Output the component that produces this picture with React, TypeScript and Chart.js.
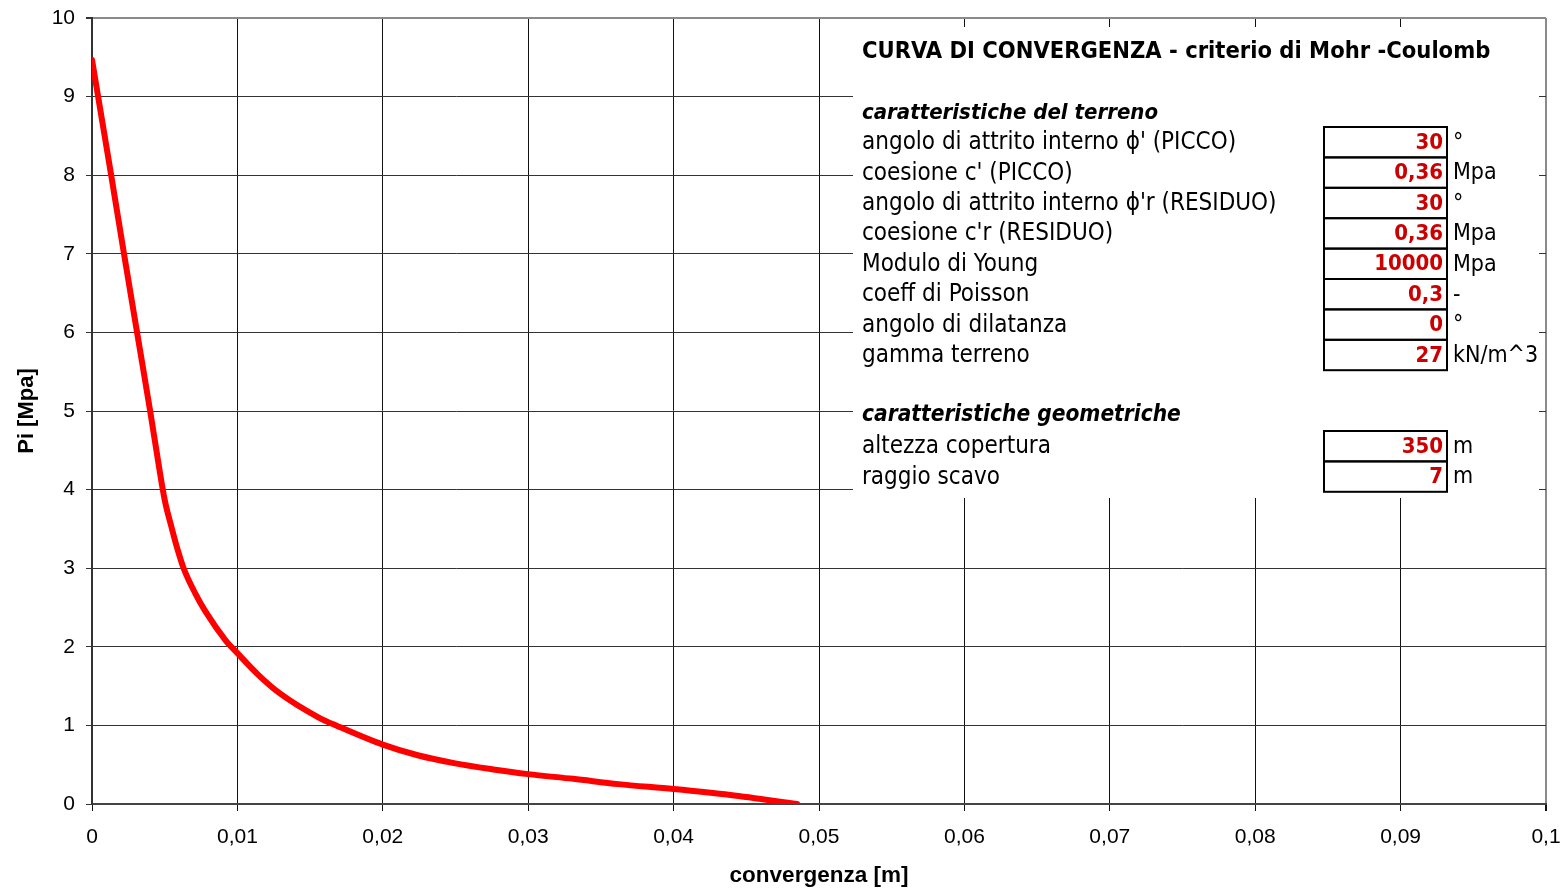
import React, { useEffect, useRef } from 'react';
import { Chart, registerables } from 'chart.js';

Chart.register(...registerables);

// ---- data ----
const convergence = [
  0, 0.00042, 0.00132, 0.0022, 0.0031, 0.004, 0.0046, 0.005, 0.0055, 0.0059,
  0.0063, 0.0071, 0.0078, 0.0092, 0.01, 0.0114, 0.0129, 0.0156, 0.0169, 0.02,
  0.0224, 0.0249, 0.0276, 0.03, 0.0331, 0.0362, 0.04, 0.0439, 0.0485,
];
const pressure = [
  9.47, 9.0, 8.0, 7.0, 6.0, 5.0, 4.3, 3.87, 3.5, 3.23,
  3.0, 2.68, 2.45, 2.08, 1.92, 1.65, 1.41, 1.1, 0.99, 0.755,
  0.62, 0.52, 0.44, 0.38, 0.32, 0.253, 0.19, 0.114, 0.0,
];
const xTickLabels = ['0', '0,01', '0,02', '0,03', '0,04', '0,05', '0,06', '0,07', '0,08', '0,09', '0,1'];
const yTickLabels = ['0', '1', '2', '3', '4', '5', '6', '7', '8', '9', '10'];
const xTitle = 'convergenza [m]';
const yTitle = 'Pi [Mpa]';

const panelTitle = 'CURVA DI CONVERGENZA - criterio di Mohr -Coulomb';
const sectionTerreno = 'caratteristiche del terreno';
const terrenoLabels = [
  "angolo di attrito interno \u03d5' (PICCO)",
  "coesione c' (PICCO)",
  "angolo di attrito interno \u03d5'r (RESIDUO)",
  "coesione c'r (RESIDUO)",
  'Modulo di Young',
  'coeff di Poisson',
  'angolo di dilatanza',
  'gamma terreno',
];
const terrenoValues = ['30', '0,36', '30', '0,36', '10000', '0,3', '0', '27'];
const terrenoUnits = ['\u00b0', 'Mpa', '\u00b0', 'Mpa', 'Mpa', '-', '\u00b0', 'kN/m^3'];
const sectionGeo = 'caratteristiche geometriche';
const geoLabels = ['altezza copertura', 'raggio scavo'];
const geoValues = ['350', '7'];
const geoUnits = ['m', 'm'];

const SANS = "'Liberation Sans', Arial, Helvetica, sans-serif";
const NARROW = "'Liberation Sans Narrow', 'Arial Narrow', 'DejaVu Sans Condensed', sans-serif";

export default function App() {
  const ref = useRef<HTMLCanvasElement>(null);

  useEffect(() => {
    const canvas = ref.current;
    if (!canvas) return;

    const panelPlugin = {
      id: 'panel',
      afterDatasetsDraw(chart: any) {
        const ctx: CanvasRenderingContext2D = chart.ctx;
        ctx.save();
        ctx.fillStyle = '#ffffff';
        ctx.fillRect(853, 27, 686, 471);

        ctx.textBaseline = 'middle';
        ctx.textAlign = 'left';
        ctx.fillStyle = '#000';
        ctx.font = `bold 23.5px ${NARROW}`;
        ctx.fillText(panelTitle, 862, 52);

        const drawRows = (labels: string[], values: string[], units: string[], top0: number) => {
          const h = 30.4;
          labels.forEach((lab, i) => {
            const top = top0 + i * h;
            const cy = top + 16;
            ctx.textAlign = 'left';
            ctx.fillStyle = '#000';
            ctx.font = `24px ${NARROW}`;
            ctx.fillText(lab, 862, cy);
            ctx.font = `23px ${NARROW}`;
            ctx.fillText(units[i], 1453, cy);
            ctx.strokeStyle = '#000';
            ctx.lineWidth = 2;
            ctx.strokeRect(1324, top, 123, h);
            ctx.textAlign = 'right';
            ctx.fillStyle = '#cc0000';
            ctx.font = `bold 22px ${NARROW}`;
            ctx.fillText(values[i], 1443, cy);
          });
        };

        ctx.font = `italic bold 22px ${NARROW}`;
        ctx.fillStyle = '#000';
        ctx.textAlign = 'left';
        ctx.fillText(sectionTerreno, 862, 113);
        drawRows(terrenoLabels, terrenoValues, terrenoUnits, 127);

        ctx.font = `italic bold 22.5px ${NARROW}`;
        ctx.fillStyle = '#000';
        ctx.textAlign = 'left';
        ctx.fillText(sectionGeo, 862, 415);
        drawRows(geoLabels, geoValues, geoUnits, 431);
        ctx.restore();
      },
    };

    const chart = new Chart(canvas, {
      type: 'line',
      data: {
        datasets: [
          {
            data: convergence.map((x, i) => ({ x, y: pressure[i] })),
            borderColor: '#ff0000',
            borderWidth: 6,
            pointRadius: 0,
            fill: false,
            cubicInterpolationMode: 'monotone',
            borderCapStyle: 'round',
            borderJoinStyle: 'round',
          },
        ],
      },
      options: {
        responsive: false,
        animation: false,
        layout: { padding: { top: 18, right: 22, left: 0, bottom: 0 } },
        plugins: { legend: { display: false }, tooltip: { enabled: false } },
        scales: {
          x: {
            type: 'linear',
            min: 0,
            max: 0.1,
            afterFit: (s: any) => {
              s.height = 86;
              s.paddingLeft = 0;
              s.paddingRight = 0;
            },
            ticks: {
              stepSize: 0.01,
              autoSkip: false,
              maxRotation: 0,
              padding: 14,
              color: '#000',
              font: { family: SANS, size: 21 },
              callback: (_v: any, i: number) => xTickLabels[i],
            },
            grid: {
              color: (c: any) => (c.index === 10 ? '#8a8a8a' : '#111'),
              lineWidth: (c: any) => (c.index === 10 ? 2 : 1),
              tickLength: 7,
              tickColor: '#111',
            },
            border: { color: '#444', width: 2 },
            title: {
              display: true,
              text: xTitle,
              color: '#000',
              font: { family: SANS, size: 22.5, weight: 'bold' },
              padding: { top: 0, bottom: 1 },
            },
          },
          y: {
            type: 'linear',
            min: 0,
            max: 10,
            afterFit: (s: any) => {
              s.width = 92;
              s.paddingTop = 0;
              s.paddingBottom = 0;
            },
            ticks: {
              stepSize: 1,
              autoSkip: false,
              padding: 11,
              color: '#000',
              font: { family: SANS, size: 21 },
              callback: (_v: any, i: number) => yTickLabels[i],
            },
            grid: {
              color: (c: any) => (c.index === 10 ? '#8a8a8a' : '#333'),
              lineWidth: (c: any) => (c.index === 10 ? 2 : 1),
              tickLength: 6,
              tickColor: '#333',
            },
            border: { color: '#333', width: 2 },
            title: {
              display: true,
              text: yTitle,
              color: '#000',
              font: { family: SANS, size: 22, weight: 'bold' },
              padding: { top: 14, bottom: 0 },
            },
          },
        },
      },
      plugins: [panelPlugin],
    } as any);

    return () => chart.destroy();
  }, []);

  return (
    <div style={{ position: 'absolute', left: 0, top: 0, width: 1568, height: 890, background: '#fff' }}>
      <canvas ref={ref} width={1568} height={890} style={{ display: 'block' }} />
    </div>
  );
}
